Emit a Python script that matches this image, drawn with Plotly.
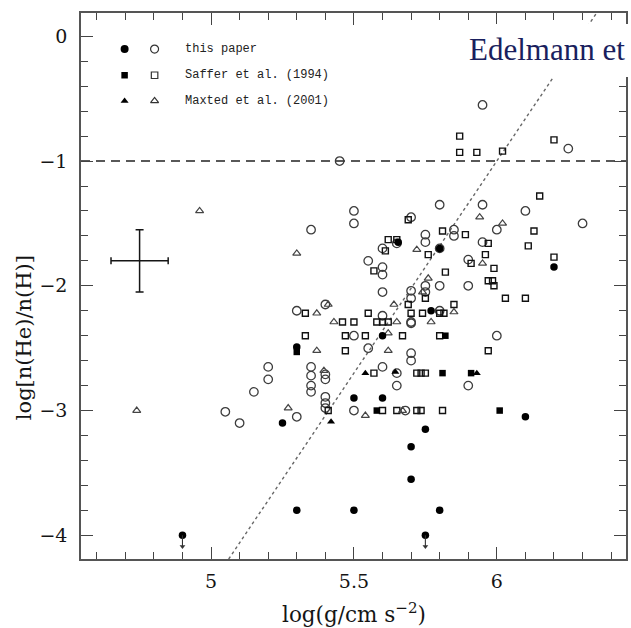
import plotly.graph_objects as go

# ---- data: log g versus helium abundance ----
# this paper
tp_open_x = [5.45, 5.50, 5.50, 5.35, 5.70, 5.65, 5.60, 5.75, 5.75, 5.55, 5.60, 5.60, 5.60,
             5.70, 5.70, 5.75, 5.75, 5.95, 6.25, 6.10, 6.30, 5.95, 5.80, 6.00, 5.85, 5.85,
             5.80, 5.95, 5.90, 5.80, 5.90, 5.80, 5.70, 6.00, 5.70, 5.70, 5.65, 5.90, 5.65,
             5.68, 5.05, 5.10, 5.15, 5.20, 5.20, 5.30, 5.40, 5.60, 5.70, 5.50, 5.55, 5.35,
             5.35, 5.40, 5.40, 5.60, 5.35, 5.35, 5.40, 5.40, 5.40, 5.30, 5.50]
tp_open_y = [-1.00, -1.40, -1.50, -1.55, -1.45, -1.66, -1.70, -1.59, -1.65, -1.80, -1.85, -1.91, -2.05,
             -2.04, -2.10, -2.00, -2.05, -0.55, -0.90, -1.40, -1.50, -1.35, -1.35, -1.55, -1.55, -1.60,
             -1.70, -1.65, -1.79, -2.00, -2.00, -2.20, -2.30, -2.40, -2.54, -2.60, -2.70, -2.80, -2.80,
             -3.00, -3.01, -3.10, -2.85, -2.65, -2.75, -2.20, -2.15, -2.24, -2.29, -2.40, -2.50, -2.65,
             -2.72, -2.71, -2.75, -2.65, -2.80, -2.85, -2.89, -2.94, -2.98, -3.05, -3.00]
tp_fill_x = [5.655, 5.80, 6.20, 5.77, 5.60, 5.30, 5.50, 5.60, 5.25, 6.10, 5.75, 5.70, 5.70,
             5.30, 5.50, 5.80]
tp_fill_y = [-1.65, -1.70, -1.85, -2.20, -2.40, -2.49, -2.90, -2.90, -3.10, -3.05, -3.15, -3.29, -3.55,
             -3.80, -3.80, -3.80]
# upper limits (this paper)
tp_lim_x = [4.90, 5.75]
tp_lim_y = [-4.00, -4.00]

# Saffer et al. (1994)
sa_open_x = [5.69, 5.62, 5.65, 5.61, 5.57, 5.76, 5.87, 5.87, 5.93, 6.02, 6.20, 6.15, 6.13, 6.11,
             5.81, 5.89, 5.97, 5.96, 5.91, 5.99, 5.82, 6.20, 5.97, 5.985, 5.99, 5.75, 6.03, 6.10,
             5.69, 5.85, 5.70, 5.74, 5.80, 5.815, 5.33, 5.55, 5.46, 5.50, 5.58, 5.60, 5.62, 5.67,
             5.80, 5.33, 5.47, 5.54, 5.47, 5.97, 5.57, 5.72, 5.735, 5.75, 5.41, 5.60, 5.65, 5.72,
             5.735, 5.81]
sa_open_y = [-1.47, -1.63, -1.63, -1.72, -1.88, -1.75, -0.80, -0.93, -0.93, -0.92, -0.83, -1.28, -1.56, -1.68,
             -1.56, -1.59, -1.66, -1.75, -1.82, -1.86, -1.89, -1.77, -1.96, -1.96, -2.00, -2.10, -2.10, -2.10,
             -2.15, -2.15, -2.22, -2.22, -2.22, -2.22, -2.22, -2.22, -2.29, -2.29, -2.29, -2.29, -2.29, -2.40,
             -2.40, -2.40, -2.40, -2.40, -2.52, -2.52, -2.70, -2.70, -2.70, -2.70, -3.00, -3.00, -3.00, -3.00,
             -3.00, -3.00]
sa_fill_x = [5.30, 5.82, 5.81, 5.91, 5.58, 6.01]
sa_fill_y = [-2.53, -2.40, -2.70, -2.70, -3.00, -3.00]

# Maxted et al. (2001)
mx_open_x = [4.96, 4.74, 5.30, 5.72, 5.94, 6.02, 5.95, 5.76, 5.74, 5.85, 5.77, 5.37, 5.41, 5.64,
             5.43, 5.65, 5.62, 5.37, 5.62, 5.395, 5.27, 5.54, 5.67]
mx_open_y = [-1.40, -3.00, -1.74, -1.71, -1.45, -1.50, -1.82, -1.94, -2.05, -2.21, -2.29, -2.22, -2.15, -2.15,
             -2.29, -2.29, -2.38, -2.52, -2.52, -2.68, -2.98, -3.04, -3.00]
mx_fill_x = [5.42, 5.54, 5.645, 5.93]
mx_fill_y = [-3.09, -2.70, -2.69, -2.70]

# typical error
err_x, err_y = [4.75], [-1.80]
err_dx, err_dy = [0.10], [0.25]

# dotted guide line and dashed He/H = 0.1 level
guide_x = [5.05, 6.36]
guide_y = [-4.23, 0.224]
solar_level = -1.0

legend_rows = ["this paper", "Saffer et al. (1994)", "Maxted et al. (2001)"]

X_RANGE = [4.545, 6.452]
Y_RANGE = [-4.19, 0.187]

INK = "#151515"
SERIF = "DejaVu Serif, Liberation Serif, serif"
CAPTION = "Liberation Serif, Times New Roman, serif"
MONO = "Liberation Mono, DejaVu Sans Mono, monospace"


def frac_x(f):
    """Fraction of the plotting width -> data x."""
    return X_RANGE[0] + f * (X_RANGE[1] - X_RANGE[0])


def frac_y(f):
    """Fraction of the plotting height -> data y."""
    return Y_RANGE[0] + f * (Y_RANGE[1] - Y_RANGE[0])


fig = go.Figure()

fig.add_trace(go.Scatter(x=guide_x, y=guide_y, mode="lines",
                         line=dict(color="#666666", width=1.4, dash="dot"),
                         hoverinfo="skip", showlegend=False))


def pts(x, y, symbol, size, color, lw=1.2):
    fig.add_trace(go.Scatter(
        x=x, y=y, mode="markers", showlegend=False,
        marker=dict(symbol=symbol, size=size, color=color,
                    line=dict(color=color, width=lw)),
    ))


pts(tp_open_x, tp_open_y, "circle-open", 8.5, "#3c3c3c", 1.3)
pts(sa_open_x, sa_open_y, "square-open", 6, "#111111", 1.4)
pts(mx_open_x, mx_open_y, "triangle-up-open", 7, "#444444", 1.2)
pts(tp_fill_x + tp_lim_x, tp_fill_y + tp_lim_y, "circle", 7.5, "#000000", 0)
pts(sa_fill_x, sa_fill_y, "square", 6.5, "#000000", 0)
pts(mx_fill_x, mx_fill_y, "triangle-up", 7, "#000000", 0)

# upper-limit arrows hanging below the limit points
ARROW_LEN = 0.09
for lx, ly in zip(tp_lim_x, tp_lim_y):
    fig.add_trace(go.Scatter(x=[lx, lx], y=[ly, ly - ARROW_LEN], mode="lines",
                             line=dict(color="#333", width=1.1), showlegend=False))
    fig.add_trace(go.Scatter(x=[lx], y=[ly - ARROW_LEN], mode="markers", showlegend=False,
                             marker=dict(symbol="triangle-down", size=5, color="#333")))

# typical error bar
fig.add_trace(go.Scatter(
    x=err_x, y=err_y, mode="markers", showlegend=False,
    marker=dict(size=1, color=INK),
    error_x=dict(type="data", array=err_dx, color=INK, thickness=1.5, width=3.5),
    error_y=dict(type="data", array=err_dy, color=INK, thickness=1.5, width=4),
))

# legend block in the upper left corner
leg_rows_f = [0.934, 0.886, 0.839]
leg_filled = ["circle", "square", "triangle-up"]
leg_open = ["circle-open", "square-open", "triangle-up-open"]
leg_size = [8, 6.5, 7]
for i in range(3):
    ly = frac_y(leg_rows_f[i])
    fig.add_trace(go.Scatter(x=[frac_x(0.080)], y=[ly], mode="markers", showlegend=False,
                             marker=dict(symbol=leg_filled[i], size=leg_size[i], color="#000")))
    fig.add_trace(go.Scatter(x=[frac_x(0.135)], y=[ly], mode="markers", showlegend=False,
                             marker=dict(symbol=leg_open[i], size=leg_size[i], color="#333",
                                         line=dict(width=1.2))))
    fig.add_annotation(x=0.188, y=leg_rows_f[i], xref="paper", yref="paper", text=legend_rows[i],
                       showarrow=False, xanchor="left", yanchor="middle",
                       font=dict(family=MONO, size=12, color="#222"))

fig.add_shape(type="line", xref="paper", yref="y", x0=0, x1=1, y0=solar_level, y1=solar_level,
              line=dict(color="#222", width=1.6, dash="9px,6px"), layer="below")

# white label patch with the author caption
fig.add_shape(type="rect", xref="paper", yref="paper", x0=0.697, x1=1.05, y0=0.883, y1=0.98,
              fillcolor="white", line=dict(width=0), layer="above")
fig.add_annotation(x=0.709, y=0.933, xref="paper", yref="paper", text="Edelmann et",
                   showarrow=False, xanchor="left", yanchor="middle",
                   font=dict(family=CAPTION, size=31, color="#1a1f5e"))

# axis titles
fig.add_annotation(x=0.5, y=-0.099, xref="paper", yref="paper",
                   text="log(g/cm s<sup>−2</sup>)", showarrow=False,
                   xanchor="center", yanchor="middle",
                   font=dict(family=SERIF, size=21.5, color=INK))
fig.add_annotation(x=-0.104, y=0.405, xref="paper", yref="paper",
                   text="log[n(He)/n(H)]", showarrow=False, textangle=-90,
                   xanchor="center", yanchor="middle",
                   font=dict(family=SERIF, size=21, color=INK))

axis_common = dict(
    showgrid=False, zeroline=False, showline=True, linecolor="#555", linewidth=1.5,
    mirror="ticks", ticks="inside", tickcolor="#444", tickwidth=1.2, ticklen=12,
    tickfont=dict(family=SERIF, size=19, color=INK),
)
fig.update_layout(
    width=631, height=628,
    margin=dict(l=81, r=3, t=13, b=69),
    paper_bgcolor="white", plot_bgcolor="white",
    showlegend=False,
    xaxis=dict(range=X_RANGE, tick0=0, dtick=0.5, ticklabelstandoff=4,
               minor=dict(dtick=0.1, ticks="inside", ticklen=7, tickcolor="#444", tickwidth=1.2),
               **axis_common),
    yaxis=dict(range=Y_RANGE, tick0=0, dtick=1, ticklabelstandoff=8,
               minor=dict(dtick=0.2, ticks="inside", ticklen=7, tickcolor="#444", tickwidth=1.2),
               **axis_common),
)

fig.write_html("out.html")
